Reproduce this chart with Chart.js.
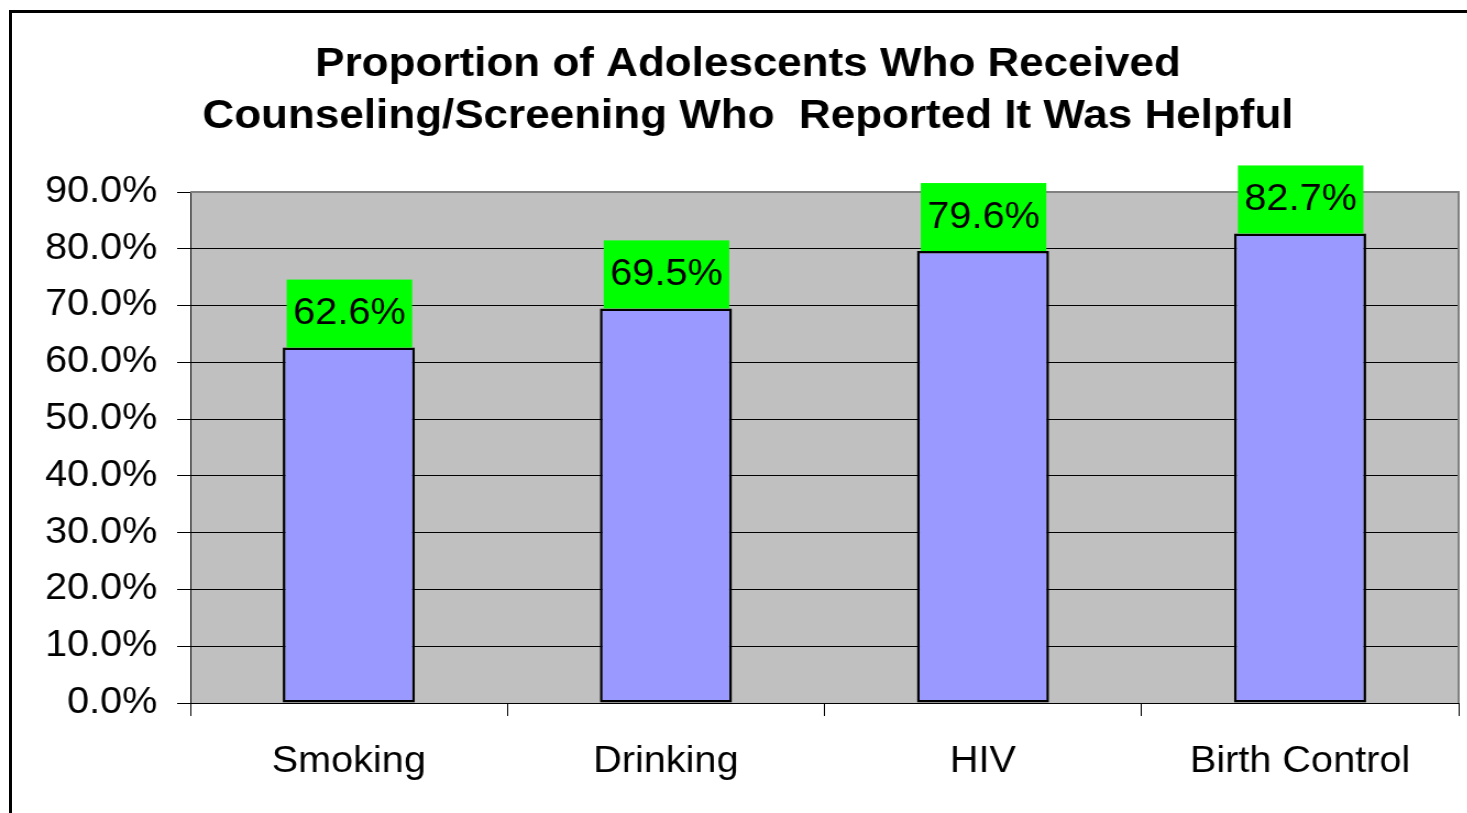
<!DOCTYPE html>
<html>
<head>
<meta charset="utf-8">
<script src="https://cdn.jsdelivr.net/npm/chart.js@4.4.1/dist/chart.umd.min.js"></script>
<style>
    html, body { margin: 0; padding: 0; background: #fff; overflow: hidden; width: 1467px; height: 813px; }
    #frame { position: absolute; left: 9px; top: 10px; width: 1500px; height: 900px; border: 3px solid #000; }
    #wrap { position: absolute; left: 0; top: 0; width: 1360px; height: 813px; transform: scaleX(1.1); transform-origin: 0 0; }
</style>
</head>
<body>
<div id="frame"></div>
<div id="wrap"><canvas id="chart" width="1360" height="813"></canvas></div>
<script>
// data
const categories = ['Smoking', 'Drinking', 'HIV', 'Birth Control'];
const helpfulPct = [62.6, 69.5, 79.6, 82.7];
const titleLines = ['Proportion of Adolescents Who Received', 'Counseling/Screening Who  Reported It Was Helpful'];
const yMin = 0;
const yMax = 90;
const yStep = 10;

const fontFamily = "'Liberation Sans', Arial, Helvetica, sans-serif";

// gray plot area behind the grid
const plotBackground = {
    id: 'plotBackground',
    beforeDraw: (chart) => {
        const { ctx, chartArea } = chart;
        ctx.save();
        ctx.fillStyle = '#C0C0C0';
        ctx.fillRect(chartArea.left, chartArea.top, chartArea.right - chartArea.left, chartArea.bottom - chartArea.top);
        ctx.restore();
    },
    beforeDatasetsDraw: (chart) => {
        const { ctx, chartArea } = chart;
        ctx.save();
        ctx.strokeStyle = '#808080';
        ctx.lineWidth = 2;
        ctx.beginPath();
        ctx.moveTo(chartArea.left, chartArea.top);
        ctx.lineTo(chartArea.right, chartArea.top);
        ctx.lineTo(chartArea.right, chartArea.bottom);
        ctx.stroke();
        ctx.restore();
    }
};

// green value boxes sitting on top of each bar
const valueLabels = {
    id: 'valueLabels',
    afterDatasetsDraw: (chart) => {
        const { ctx } = chart;
        const meta = chart.getDatasetMeta(0);
        ctx.save();
        ctx.font = `36px ${fontFamily}`;
        ctx.textAlign = 'center';
        ctx.textBaseline = 'middle';
        meta.data.forEach((bar, i) => {
            const text = helpfulPct[i].toFixed(1) + '%';
            const w = ctx.measureText(text).width + 12;
            const h = 68;
            const x = bar.x + 0.5;
            const bottom = bar.y;
            ctx.fillStyle = '#00FF00';
            ctx.fillRect(x - w / 2, bottom - h, w, h);
            ctx.fillStyle = '#000';
            ctx.fillText(text, x, bottom - h / 2 + 1);
        });
        ctx.restore();
    }
};

const ctx = document.getElementById('chart').getContext('2d');

const chart = new Chart(ctx, {
    type: 'bar',
    data: {
        labels: categories,
        datasets: [{
            data: helpfulPct,
            backgroundColor: '#9999FF',
            borderColor: '#000',
            borderWidth: 2.5,
            borderSkipped: false,
            categoryPercentage: 1,
            barPercentage: 0.4167
        }]
    },
    options: {
        responsive: false,
        animation: false,
        devicePixelRatio: 1,
        layout: {
            padding: 0
        },
        plugins: {
            legend: { display: false },
            tooltip: { enabled: false },
            title: {
                display: true,
                text: titleLines,
                color: '#000',
                font: { family: fontFamily, size: 40, weight: 'bold', lineHeight: 1.3 },
                padding: { top: 39, bottom: 49 }
            }
        },
        scales: {
            x: {
                offset: true,
                grid: {
                    offset: true,
                    drawOnChartArea: false,
                    color: '#000',
                    tickLength: 13,
                    lineWidth: 1
                },
                border: { display: true, color: '#000', width: 1 },
                ticks: {
                    color: '#000',
                    font: { family: fontFamily, size: 36 },
                    padding: 24,
                    maxRotation: 0
                },
                afterFit: (scale) => { scale.height = 110; }
            },
            y: {
                min: yMin,
                max: yMax,
                grid: {
                    color: (c) => (c.tick && c.tick.value === yMax ? 'rgba(0,0,0,0)' : '#000'),
                    tickColor: '#000',
                    tickLength: 12,
                    lineWidth: 1
                },
                border: { display: true, color: '#000', width: 1 },
                ticks: {
                    stepSize: yStep,
                    color: '#000',
                    font: { family: fontFamily, size: 36 },
                    padding: 18,
                    callback: (v) => v.toFixed(1) + '%'
                },
                afterFit: (scale) => { scale.width = 173; }
            },
            // empty strip on the right so the plot ends short of the canvas edge
            rightGap: {
                type: 'linear',
                position: 'right',
                grid: { display: false },
                border: { display: false },
                ticks: { display: false },
                afterFit: (scale) => { scale.width = 34; }
            }
        }
    },
    plugins: [plotBackground, valueLabels]
});
</script>
</body>
</html>
